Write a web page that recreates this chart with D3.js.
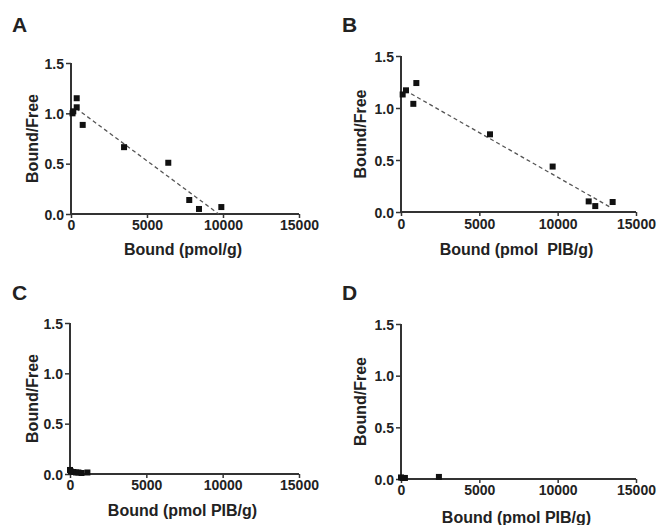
<!DOCTYPE html>
<html>
<head>
<meta charset="utf-8">
<script src="https://cdn.jsdelivr.net/npm/d3@7"></script>
<style>
  body { margin: 0; background: #fff; overflow: hidden; }
  text { font-family: "Liberation Sans", Arial, sans-serif; font-weight: bold; fill: #222; }
</style>
</head>
<body>
<div id="chart"></div>
<script>
// ---- donnees ----
const xTicks = [0, 5000, 10000, 15000];
const yTicks = [0, 0.5, 1.0, 1.5];

// panneau A
const boundA = [100, 150, 375, 375, 770, 3490, 6400, 7780, 8420, 9890];
const ratioA = [1.00, 1.02, 1.15, 1.06, 0.885, 0.664, 0.509, 0.139, 0.05, 0.069];
const fitA = [[330, 1.05], [9720, 0]];

// panneau B
const boundB = [106, 319, 787, 979, 5680, 9680, 11980, 12400, 13510];
const ratioB = [1.13, 1.17, 1.04, 1.24, 0.747, 0.437, 0.102, 0.057, 0.096];
const fitB = [[255, 1.17], [13340, 0.048]];

// panneau C
const boundC = [0, 60, 220, 400, 550, 760, 1140];
const ratioC = [0.04, 0.025, 0.02, 0.015, 0.015, 0.01, 0.015];

// panneau D
const boundD = [0, 100, 250, 2420];
const ratioD = [0.015, 0.01, 0.01, 0.02];

const panels = [
  {lab: "A", xs: boundA, ys: ratioA, fit: fitA, title: "Bound (pmol/g)",
   x0: 71, x1: 299, yTop: 63, yBot: 214, labX: 12, labY: 32, yTitleX: 32, xTitleY: 255, tickY: 230},
  {lab: "B", xs: boundB, ys: ratioB, fit: fitB, title: "Bound (pmol\u00a0\u00a0PIB/g)",
   x0: 401, x1: 636, yTop: 56, yBot: 212, labX: 342, labY: 32, yTitleX: 360, xTitleY: 255, tickY: 229},
  {lab: "C", xs: boundC, ys: ratioC, fit: null, title: "Bound (pmol PIB/g)",
   x0: 70, x1: 299, yTop: 323, yBot: 474, labX: 12, labY: 300, yTitleX: 32, xTitleY: 516, tickY: 490},
  {lab: "D", xs: boundD, ys: ratioD, fit: null, title: "Bound (pmol PIB/g)",
   x0: 401, x1: 636, yTop: 324, yBot: 479, labX: 342, labY: 300, yTitleX: 360, xTitleY: 523, tickY: 495}
];

const svg = d3.select("#chart").append("svg")
  .attr("width", 660)
  .attr("height", 525);

panels.forEach(p => {
  const x = d3.scaleLinear().domain([0, 15000]).range([p.x0, p.x1]);
  const y = d3.scaleLinear().domain([0, 1.5]).range([p.yBot, p.yTop]);
  const g = svg.append("g");

  // axe x
  const gx = g.append("g")
    .attr("transform", `translate(0,${p.yBot})`)
    .call(d3.axisBottom(x).tickValues(xTicks).tickSize(4).tickPadding(3).tickFormat(d3.format("d")));
  // axe y
  const gy = g.append("g")
    .attr("transform", `translate(${p.x0},0)`)
    .call(d3.axisLeft(y).tickValues(yTicks).tickSize(5).tickPadding(2).tickFormat(d3.format(".1f")));

  [gx, gy].forEach(a => {
    a.select(".domain").attr("stroke", "#333").attr("stroke-width", 2).attr("d",
      a === gx ? `M${p.x0},0H${p.x1}` : `M0,${p.yBot}V${p.yTop}`);
    a.selectAll(".tick line").attr("stroke", "#333").attr("stroke-width", 1.5);
    a.selectAll(".tick text").style("font-size", "14px").attr("fill", "#222");
  });
  gx.selectAll(".tick text").attr("y", null).attr("dy", null)
    .attr("transform", `translate(0,${p.tickY - p.yBot})`);
  gy.selectAll(".tick text").attr("dy", "0.36em");

  // droite d'ajustement
  if (p.fit) {
    g.append("path")
      .attr("d", d3.line().x(d => x(d[0])).y(d => y(d[1]))(p.fit))
      .attr("fill", "none")
      .attr("stroke", "#555")
      .attr("stroke-width", 1.3)
      .attr("stroke-dasharray", "4,3");
  }

  // points
  g.selectAll("rect.pt")
    .data(p.xs.map((v, i) => [v, p.ys[i]]))
    .enter()
    .append("rect")
    .attr("class", "pt")
    .attr("x", d => x(d[0]) - 3)
    .attr("y", d => y(d[1]) - 3)
    .attr("width", 6)
    .attr("height", 6)
    .attr("fill", "#111");

  // titres
  g.append("text")
    .attr("x", p.labX).attr("y", p.labY)
    .style("font-size", "21px")
    .text(p.lab);

  g.append("text")
    .attr("x", (p.x0 + p.x1) / 2 - 2).attr("y", p.xTitleY)
    .attr("text-anchor", "middle")
    .style("font-size", "16px")
    .text(p.title);

  g.append("text")
    .attr("transform", `translate(${p.yTitleX + 6},${(p.yTop + p.yBot) / 2}) rotate(-90)`)
    .attr("text-anchor", "middle")
    .style("font-size", "16px")
    .text("Bound/Free");
});
</script>
</body>
</html>
